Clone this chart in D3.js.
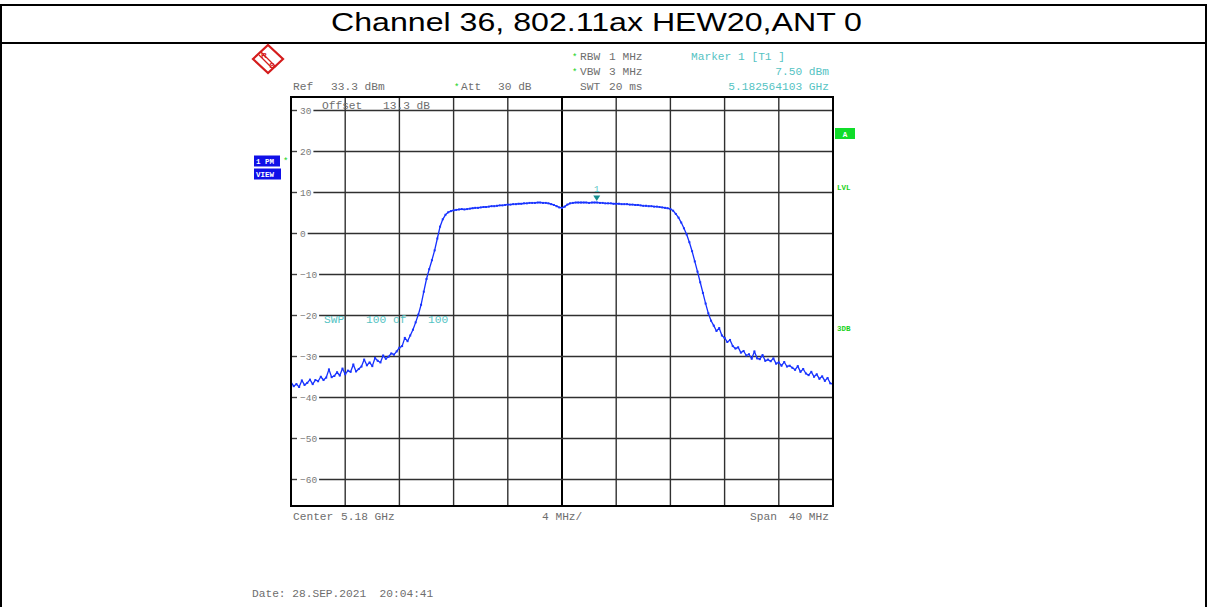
<!DOCTYPE html>
<html><head><meta charset="utf-8">
<script src="https://cdn.jsdelivr.net/npm/d3@7"></script>
<style>
body{margin:0;background:#fff;}
svg{display:block;}
.mono{font-family:"Liberation Mono","Courier New",monospace;white-space:pre;}
</style>
</head><body>
<svg id="c" width="1207" height="607"></svg>
<script>
// ---------- data ----------
const titleText = "Channel 36, 802.11ax HEW20,ANT 0";
const yTickValues = [30, 20, 10, 0, -10, -20, -30, -40, -50, -60];
const xDivisionsGHz = [5.160, 5.164, 5.168, 5.172, 5.176, 5.180, 5.184, 5.188, 5.192, 5.196, 5.200];
const refLevelDbm = 33.3;
const bottomLevelDbm = -66.7;
const startGHz = 5.16;
const stopGHz = 5.20;
const sweepStepGHz = 0.0002;
// trace values (dBm), one every 0.2 MHz from 5.160 GHz to 5.200 GHz
const traceDbm = [
 -36.4,-37.4,-36.9,-37.6,-36.0,-37.1,-36.6,-35.8,-36.9,-35.9,
 -36.2,-35.1,-35.9,-35.3,-33.3,-35.2,-34.9,-34.0,-34.8,-33.1,
 -34.5,-33.6,-33.9,-32.1,-33.8,-33.2,-32.6,-30.9,-32.3,-31.6,
 -32.5,-30.5,-31.2,-31.6,-29.9,-30.7,-30.2,-29.4,-29.7,-28.9,
 -28.0,-27.6,-25.6,-26.4,-25.0,-23.6,-21.8,-19.9,-17.5,-14.3,
 -11.2,-8.8,-6.6,-4.2,-1.3,1.6,3.4,4.5,5.1,5.4,
 5.6,5.7,5.8,5.9,5.8,5.9,6.0,6.1,6.2,6.2,
 6.3,6.4,6.4,6.5,6.6,6.6,6.7,6.8,6.8,6.9,
 7.0,7.0,7.1,7.1,7.2,7.2,7.3,7.3,7.4,7.4,
 7.4,7.5,7.5,7.4,7.4,7.3,7.1,6.9,6.6,6.3,
 6.2,6.5,7.0,7.3,7.4,7.5,7.5,7.5,7.5,7.5,
 7.4,7.5,7.5,7.5,7.4,7.4,7.3,7.3,7.3,7.2,
 7.2,7.2,7.1,7.1,7.1,7.0,7.0,6.9,6.9,6.8,
 6.7,6.7,6.6,6.6,6.5,6.5,6.4,6.3,6.2,6.1,
 5.9,5.5,4.7,3.8,2.6,1.2,-0.3,-2.2,-4.4,-6.9,
 -9.4,-12.0,-14.6,-17.2,-19.6,-21.4,-22.6,-23.9,-23.2,-25.0,
 -25.6,-26.6,-26.1,-27.6,-28.2,-27.9,-29.2,-28.8,-29.9,-29.6,
 -30.7,-28.9,-30.6,-30.8,-29.8,-31.2,-30.9,-31.3,-30.6,-31.9,
 -31.6,-32.4,-31.5,-32.6,-32.4,-32.9,-33.4,-32.5,-33.9,-33.2,
 -34.3,-34.7,-33.9,-35.1,-34.5,-35.6,-35.0,-36.1,-35.4,-36.7,
 -36.9
];
const markerFreqGHz = 5.182564103;
const markerLevelDbm = 7.50;

// ---------- layout ----------
const svg = d3.select("#c");
const L = 291, R = 833, T = 97, B = 506;
const x = d3.scaleLinear().domain([startGHz, stopGHz]).range([L, R]);
const y = d3.scaleLinear().domain([bottomLevelDbm, refLevelDbm]).range([B, T]);
const gray = "#6e6e6e", cyan = "#55c3c3", green = "#19d219";

// outer frame + title
svg.append("line").attr("x1",0).attr("x2",1207).attr("y1",5).attr("y2",5).attr("stroke","#000").attr("stroke-width",2);
svg.append("line").attr("x1",0).attr("x2",1207).attr("y1",43).attr("y2",43).attr("stroke","#000").attr("stroke-width",2);
svg.append("line").attr("x1",1).attr("x2",1).attr("y1",5).attr("y2",607).attr("stroke","#000").attr("stroke-width",2);
svg.append("line").attr("x1",1206).attr("x2",1206).attr("y1",5).attr("y2",607).attr("stroke","#000").attr("stroke-width",2);
svg.append("text").attr("x",331).attr("y",31).attr("font-family","Liberation Sans, Arial, sans-serif")
  .attr("font-size",25.5).attr("textLength",531).attr("lengthAdjust","spacingAndGlyphs").attr("fill","#000").text(titleText);

// grid: vertical
svg.append("g").selectAll("line").data(xDivisionsGHz.slice(1, -1)).join("line")
  .attr("x1", d => x(d)).attr("x2", d => x(d)).attr("y1", T).attr("y2", B)
  .attr("stroke", (d,i) => i === 4 ? "#000" : "#303030")
  .attr("stroke-width", (d,i) => i === 4 ? 2 : 1.4);

// grid: horizontal with inline labels
const gy = svg.append("g");
yTickValues.forEach(v => {
  const yy = Math.round(y(v)) + 0.5;
  gy.append("line").attr("x1", L).attr("x2", L + 6).attr("y1", yy).attr("y2", yy).attr("stroke", "#404040").attr("stroke-width", 1.4);
  const t = gy.append("text").attr("class","mono").attr("x", L + 9).attr("y", yy + 3.3)
    .attr("font-size", 9.5).attr("fill", "#7a7a7a").text(v < 0 ? "\u2212" + Math.abs(v) : String(v));
  const w = t.node().getComputedTextLength();
  gy.append("line").attr("x1", L + 9 + w + 2).attr("x2", R).attr("y1", yy).attr("y2", yy).attr("stroke", "#303030").attr("stroke-width", 1.4);
});

// trace
const pts = traceDbm.map((v, i) => [startGHz + i * sweepStepGHz, v]);
svg.append("path").datum(pts)
  .attr("d", d3.line().x(d => x(d[0])).y(d => y(d[1])))
  .attr("fill","none").attr("stroke","#1530ff").attr("stroke-width",1.3).attr("stroke-linejoin","round");
svg.append("g").selectAll("rect").data(pts).join("rect")
  .attr("x", d => x(d[0]) - 1).attr("y", d => y(d[1]) - 1).attr("width", 2).attr("height", 2).attr("fill", "#1a35ff");

// plot border
svg.append("rect").attr("x", L).attr("y", T).attr("width", R - L).attr("height", B - T)
  .attr("fill","none").attr("stroke","#000").attr("stroke-width",2);

// marker
const mx = x(markerFreqGHz), my = y(markerLevelDbm);
svg.append("path").attr("d", `M${mx-3.5},${my-7}L${mx+3.5},${my-7}L${mx},${my-1.5}Z`).attr("fill","#158f8f");
svg.append("text").attr("class","mono").attr("x", mx).attr("y", my - 11).attr("text-anchor","middle")
  .attr("font-size", 9).attr("fill", cyan).text("1");

// helper for text
function txt(s, xx, yy, fill, opts = {}) {
  const t = svg.append("text").attr("class","mono").attr("x", xx).attr("y", yy)
    .attr("font-size", opts.size || 11.2).attr("fill", fill).text(s);
  if (opts.anchor) t.attr("text-anchor", opts.anchor);
  if (opts.weight) t.attr("font-weight", opts.weight);
  return t;
}
// header annotations
txt("Ref", 293, 89.5, gray); txt("33.3 dBm", 331, 89.5, gray);
txt("*", 454, 89.5, green, {size:9}); txt("Att", 461, 89.5, gray); txt("30 dB", 498, 89.5, gray);
txt("*", 572, 59.5, green, {size:9}); txt("RBW", 580, 59.5, gray); txt("1 MHz", 609, 59.5, gray);
txt("*", 572, 74.5, green, {size:9}); txt("VBW", 580, 74.5, gray); txt("3 MHz", 609, 74.5, gray);
txt("SWT", 580, 89.5, gray); txt("20 ms", 609, 89.5, gray);
txt("Marker 1 [T1 ]", 691, 59.5, cyan);
txt("7.50 dBm", 829, 74.5, cyan, {anchor:"end"});
txt("5.182564103 GHz", 829, 89.5, cyan, {anchor:"end"});
// in-plot
txt("Offset", 322, 108.5, gray); txt("13.3 dB", 383, 108.5, gray);
txt("SWP", 324, 323, cyan); txt("100", 366, 323, cyan); txt("of", 393, 323, cyan); txt("100", 428, 323, cyan);
// bottom
txt("Center", 293, 520, gray); txt("5.18 GHz", 341, 520, gray);
txt("4 MHz/", 542, 520, gray);
txt("Span", 750, 520, gray); txt("40 MHz", 829, 520, gray, {anchor:"end"});
txt("Date: 28.SEP.2021  20:04:41", 252, 597, gray);

// left blue boxes
svg.append("rect").attr("x",254).attr("y",155.5).attr("width",26).attr("height",11).attr("fill","#1010e8");
svg.append("rect").attr("x",254).attr("y",168.5).attr("width",27).attr("height",11).attr("fill","#1010e8");
txt("1 PM", 256, 164, "#fff", {size:7.5, weight:"bold"});
txt("VIEW", 256, 177, "#fff", {size:7.5, weight:"bold"});
txt("*", 283, 164, green, {size:9});

// right green labels
svg.append("rect").attr("x",835).attr("y",128).attr("width",20).attr("height",11).attr("fill","#10dd2a");
txt("A", 845, 136.5, "#fff", {size:7.5, anchor:"middle", weight:"bold"});
txt("LVL", 837, 190, green, {size:7.5, weight:"bold"});
txt("3DB", 837, 331, green, {size:7.5, weight:"bold"});

// R&S logo
const lg = svg.append("g").attr("transform","translate(268,59)");
lg.append("path").attr("d","M-15,0L0,-14L15,0L0,14Z").attr("fill","none").attr("stroke","#d41c1c").attr("stroke-width",2.2);
lg.append("line").attr("x1",-7).attr("y1",-7).attr("x2",8).attr("y2",8).attr("stroke","#d41c1c").attr("stroke-width",1.2);
lg.append("line").attr("x1",-9).attr("y1",-4).attr("x2",5).attr("y2",10).attr("stroke","#d41c1c").attr("stroke-width",1.2);
lg.append("text").attr("x",-4).attr("y",-1).attr("text-anchor","middle").attr("font-family","Liberation Sans, Arial").attr("font-weight","bold").attr("font-size",8).attr("fill","#d41c1c").text("R");
lg.append("text").attr("x",4).attr("y",9).attr("text-anchor","middle").attr("font-family","Liberation Sans, Arial").attr("font-weight","bold").attr("font-size",8).attr("fill","#d41c1c").text("S");
</script>
</body></html>
